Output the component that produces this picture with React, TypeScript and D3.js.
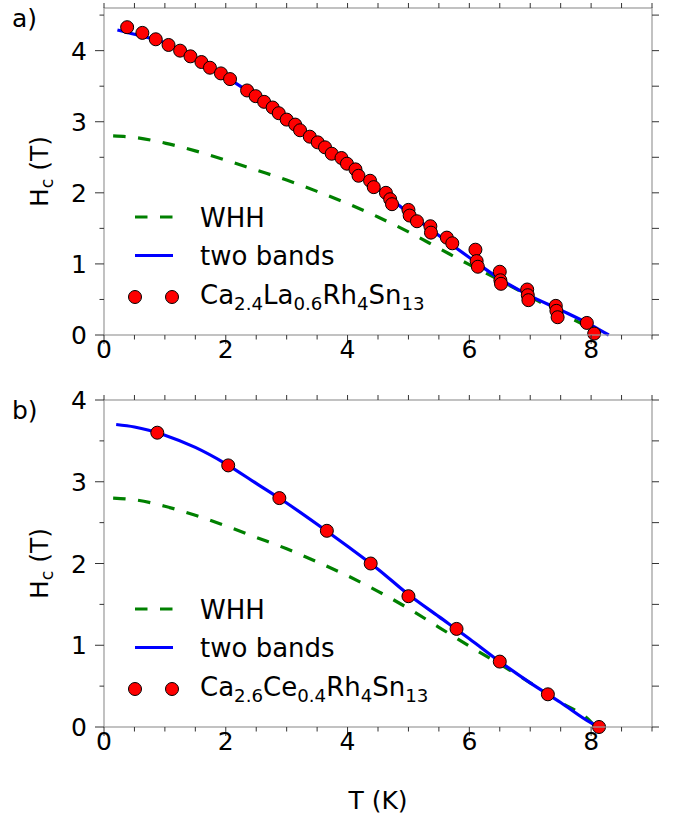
import React from "react";
import * as d3 from "d3";

// ---------- data ----------
const xTicks = [0, 2, 4, 6, 8];
const yTicks = [0, 1, 2, 3, 4];

// Panel a: Ca2.4La0.6Rh4Sn13
const pointsA_T = [0.38, 0.63, 0.85, 1.06, 1.25, 1.42, 1.6, 1.74, 1.92, 2.07, 2.35, 2.49, 2.63, 2.77, 2.87, 3.0, 3.14, 3.22, 3.38, 3.51, 3.63, 3.74, 3.9, 3.99, 4.13, 4.18, 4.37, 4.43, 4.63, 4.7, 4.73, 5.0, 5.02, 5.14, 5.36, 5.37, 5.63, 5.72, 6.1, 6.12, 6.14, 6.5, 6.51, 6.52, 6.95, 6.96, 6.97, 7.42, 7.43, 7.45, 7.93, 8.05];
const pointsA_H = [4.33, 4.25, 4.16, 4.08, 4.0, 3.92, 3.84, 3.76, 3.68, 3.6, 3.44, 3.36, 3.28, 3.2, 3.12, 3.03, 2.96, 2.88, 2.79, 2.71, 2.64, 2.55, 2.49, 2.41, 2.33, 2.24, 2.17, 2.08, 2.0, 1.91, 1.84, 1.76, 1.68, 1.6, 1.53, 1.44, 1.37, 1.29, 1.2, 1.04, 0.96, 0.89, 0.77, 0.72, 0.64, 0.56, 0.49, 0.41, 0.34, 0.25, 0.17, 0.02];
const twoBandA_T = [0.22, 0.5, 1.0, 1.5, 2.0, 2.5, 3.0, 3.5, 4.0, 4.5, 5.0, 5.5, 6.0, 6.5, 7.0, 7.5, 8.0, 8.29];
const twoBandA_H = [4.29, 4.23, 4.11, 3.89, 3.63, 3.35, 3.04, 2.72, 2.4, 2.06, 1.72, 1.4, 1.09, 0.79, 0.55, 0.35, 0.14, 0.0];
const whhA_T = [0.15, 0.5, 1.0, 1.5, 2.0, 2.5, 3.0, 3.5, 4.0, 4.5, 5.0, 5.5, 6.0, 6.5, 7.0, 7.5, 8.0, 8.07];
const whhA_H = [2.8, 2.78, 2.7, 2.59, 2.46, 2.32, 2.18, 2.02, 1.85, 1.66, 1.45, 1.22, 0.99, 0.77, 0.54, 0.3, 0.06, 0.0];

// Panel b: Ca2.6Ce0.4Rh4Sn13
const pointsB_T = [0.875, 2.04, 2.88, 3.66, 4.38, 5.0, 5.79, 6.5, 7.29, 8.13];
const pointsB_H = [3.6, 3.2, 2.8, 2.4, 2.0, 1.6, 1.2, 0.8, 0.4, 0.0];
const twoBandB_T = [0.2, 0.5, 1.0, 1.5, 2.0, 2.5, 3.0, 3.5, 4.0, 4.5, 5.0, 5.5, 6.0, 6.5, 7.0, 7.5, 8.0, 8.13];
const twoBandB_H = [3.7, 3.67, 3.57, 3.42, 3.22, 2.98, 2.74, 2.48, 2.21, 1.93, 1.62, 1.35, 1.08, 0.8, 0.54, 0.3, 0.05, 0.0];
const whhB_T = [0.15, 0.5, 1.0, 1.5, 2.0, 2.5, 3.0, 3.5, 4.0, 4.5, 5.0, 5.5, 6.0, 6.5, 7.0, 7.5, 8.0, 8.07];
const whhB_H = [2.8, 2.78, 2.7, 2.59, 2.46, 2.32, 2.18, 2.02, 1.85, 1.66, 1.45, 1.22, 0.99, 0.77, 0.54, 0.3, 0.06, 0.0];

// ---------- layout ----------
const W = 692;
const H = 818;
const FONT = "DejaVu Sans";
const TICK_FS = 25;
const LEG_FS = 26;

const x = d3.scaleLinear().domain([0, 9]).range([104, 652]);
const xMinor = d3.range(0, 9.01, 0.5);

type PanelProps = {
  label: string;
  yMax: number;
  top: number;
  bottom: number;
  pT: number[];
  pH: number[];
  bT: number[];
  bH: number[];
  wT: number[];
  wH: number[];
  subA: string[];
};

const zip = (a: number[], b: number[]) => a.map((v, i) => [v, b[i]] as [number, number]);

function Panel(props: PanelProps) {
  const { label, yMax, top, bottom, pT, pH, bT, bH, wT, wH, subA } = props;
  const y = d3.scaleLinear().domain([0, yMax]).range([bottom, top]);
  const yMinor = d3.range(0, yMax + 0.001, 0.5);
  const line = d3
    .line<[number, number]>()
    .x((d) => x(d[0]))
    .y((d) => y(d[1]))
    .curve(d3.curveMonotoneX);
  const left = x.range()[0];
  const right = x.range()[1];
  const spine = "#999";
  const tickC = "#333";
  const legY = top + 209;
  const legDy = 38.5;
  const legX0 = 135;
  const legX1 = 173;
  const legText = 200;
  const midY = (top + bottom) / 2;
  return (
    <g>
      {/* data */}
      <path d={line(zip(wT, wH)) || ""} fill="none" stroke="#008000" strokeWidth={3.2} strokeDasharray="12.5,12.5" />
      <path d={line(zip(bT, bH)) || ""} fill="none" stroke="#0000ff" strokeWidth={3.2} />
      {pT.map((t, i) => (
        <circle key={i} cx={x(t)} cy={y(pH[i])} r={6.5} fill="#ff0000" stroke="#000" strokeWidth={1} />
      ))}
      {/* frame */}
      <rect x={left} y={top} width={right - left} height={bottom - top} fill="none" stroke={spine} strokeWidth={1.2} />
      {/* x ticks */}
      {xMinor.map((t, i) => {
        const major = Math.abs(t - Math.round(t / 2) * 2) < 1e-6;
        return (
          <g key={"xt" + i}>
            <line x1={x(t)} x2={x(t)} y1={bottom} y2={bottom + (major ? 9 : 4.5)} stroke={tickC} strokeWidth={1} />
            <line x1={x(t)} x2={x(t)} y1={top} y2={top - 5} stroke={tickC} strokeWidth={1} />
          </g>
        );
      })}
      {xTicks.map((t) => (
        <text key={"xl" + t} x={x(t)} y={bottom + 23} textAnchor="middle" fontFamily={FONT} fontSize={TICK_FS} fill="#000">
          {t}
        </text>
      ))}
      {/* y ticks */}
      {yMinor.map((v, i) => {
        const major = Math.abs(v - Math.round(v)) < 1e-6;
        return (
          <g key={"yt" + i}>
            <line x1={left} x2={left - (major ? 9 : 4.5)} y1={y(v)} y2={y(v)} stroke={tickC} strokeWidth={1} />
            <line x1={right} x2={right + 7} y1={y(v)} y2={y(v)} stroke={tickC} strokeWidth={1} />
          </g>
        );
      })}
      {yTicks.map((v) => (
        <text key={"yl" + v} x={87} y={y(v) + 9} textAnchor="end" fontFamily={FONT} fontSize={TICK_FS} fill="#000">
          {v}
        </text>
      ))}
      {/* y label */}
      <text transform={`translate(48,${midY}) rotate(-90)`} textAnchor="middle" fontFamily={FONT} fontSize={TICK_FS} fill="#000">
        H<tspan fontSize={TICK_FS * 0.7} dy={5}>c</tspan>
        <tspan dy={-5}> (T)</tspan>
      </text>
      {/* panel label */}
      <text x={12} y={top + 19} fontFamily={FONT} fontSize={25} fill="#000">
        {label}
      </text>
      {/* legend */}
      <line x1={legX0} x2={legX1} y1={legY} y2={legY} stroke="#008000" strokeWidth={3.2} strokeDasharray="12.5,12.5" />
      <text x={legText} y={legY + 9.5} fontFamily={FONT} fontSize={LEG_FS} fill="#000">WHH</text>
      <line x1={legX0} x2={legX1} y1={legY + legDy} y2={legY + legDy} stroke="#0000ff" strokeWidth={3.2} />
      <text x={legText} y={legY + legDy + 9.5} fontFamily={FONT} fontSize={LEG_FS} fill="#000">two bands</text>
      <circle cx={legX0} cy={legY + 2 * legDy + 3} r={6.5} fill="#ff0000" stroke="#000" strokeWidth={1} />
      <circle cx={legX1 - 1} cy={legY + 2 * legDy + 3} r={6.5} fill="#ff0000" stroke="#000" strokeWidth={1} />
      <text x={legText} y={legY + 2 * legDy + 9.5} fontFamily={FONT} fontSize={LEG_FS} fill="#000">
        {subA.map((s, i) =>
          i % 2 === 0 ? (
            <tspan key={i} dy={i === 0 ? 0 : -6}>{s}</tspan>
          ) : (
            <tspan key={i} dy={6} fontSize={LEG_FS * 0.7}>{s}</tspan>
          )
        )}
      </text>
    </g>
  );
}

export default function App() {
  return (
    <svg width={W} height={H} style={{ position: "absolute", left: 0, top: 0, background: "#fff" }}>
      <rect x={0} y={0} width={W} height={H} fill="#fff" />
      <Panel
        label="a)"
        yMax={4.6}
        top={8}
        bottom={335}
        pT={pointsA_T}
        pH={pointsA_H}
        bT={twoBandA_T}
        bH={twoBandA_H}
        wT={whhA_T}
        wH={whhA_H}
        subA={["Ca", "2.4", "La", "0.6", "Rh", "4", "Sn", "13"]}
      />
      <Panel
        label="b)"
        yMax={4}
        top={400}
        bottom={727}
        pT={pointsB_T}
        pH={pointsB_H}
        bT={twoBandB_T}
        bH={twoBandB_H}
        wT={whhB_T}
        wH={whhB_H}
        subA={["Ca", "2.6", "Ce", "0.4", "Rh", "4", "Sn", "13"]}
      />
      <text x={x(4.5)} y={809} textAnchor="middle" fontFamily={FONT} fontSize={TICK_FS} fill="#000">
        T (K)
      </text>
    </svg>
  );
}
